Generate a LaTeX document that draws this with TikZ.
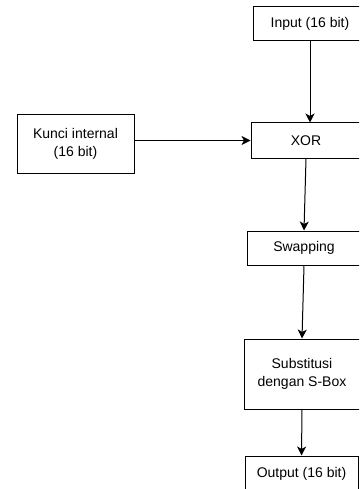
\documentclass[tikz,border=0pt]{standalone}
\usepackage{fontspec}
\setmainfont{Liberation Sans}
\usetikzlibrary{arrows.meta}
\begin{document}
\begin{tikzpicture}[x=1pt,y=-1pt,
  box/.style={draw=black,line width=1pt,fill=white,inner sep=0pt,align=center,
    font=\fontsize{14}{17.5}\selectfont},
  arr/.style={line width=1pt,-{Stealth[length=9pt,width=9pt,inset=2.5pt]}}]
\useasboundingbox (0,0) rectangle (359,489);
\clip (0,0) rectangle (359,489);
\fill[white] (0,0) rectangle (359,489);
\node[box,minimum width=114pt,minimum height=34pt] (in) at (310,24) {Input (16 bit)};
\node[box,minimum width=110pt,minimum height=35pt] (xor) at (306,140.5) {XOR};
\node[box,minimum width=117pt,minimum height=58pt] (key) at (75.5,144) {Kunci internal\\(16 bit)};
\node[box,minimum width=113pt,minimum height=34pt] (swap) at (304,248) {Swapping};
\node[box,minimum width=116pt,minimum height=70pt] (sub) at (302,374) {Substitusi\\dengan S-Box};
\node[box,minimum width=113pt,minimum height=36pt] (out) at (301.5,474) {Output (16 bit)};
\draw[arr] (in.south) -- (in.south |- xor.north);
\draw[arr] (key.east |- xor.west) -- (xor.west);
\draw[arr] (xor.south) -- (swap.north);
\draw[arr] (swap.south) -- (sub.north);
\draw[arr] (sub.south) -- (out.north);
\end{tikzpicture}
\end{document}
